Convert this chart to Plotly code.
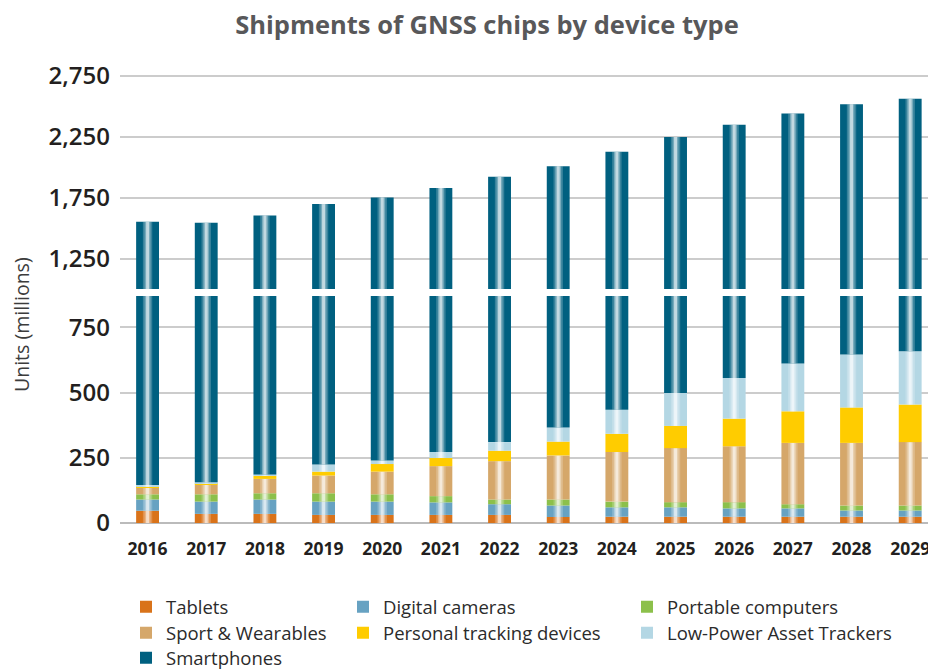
import numpy as np
import plotly.graph_objects as go

years = ["2016", "2017", "2018", "2019", "2020", "2021", "2022",
         "2023", "2024", "2025", "2026", "2027", "2028", "2029"]

tablets = [47, 35, 35, 31, 31, 31, 31, 23, 24, 24, 24, 24, 24, 24]
digital_cameras = [43, 47, 55, 51, 51, 48, 41, 44, 36, 36, 32, 32, 24, 24]
portable_computers = [20, 28, 24, 32, 28, 24, 18, 23, 22, 20, 24, 16, 19, 19]
sport_wearables = [27, 37, 55, 68, 87, 115, 147, 169, 190, 207, 214, 235, 240, 243]
personal_tracking = [2, 4, 12, 15, 29, 31, 40, 53, 70, 85, 106, 121, 136, 144]
low_power_trackers = [7, 5, 5, 27, 14, 23, 33, 54, 92, 126, 156, 183, 203, 204]
smartphones = [1406, 1388, 1418, 1473, 1512, 1558, 1611, 1642, 1692, 1750,
               1792, 1830, 1871, 1904]

lower_ticks = [0, 250, 500, 750]
lower_labels = ["0", "250", "500", "750"]
upper_ticks = [1250, 1750, 2250, 2750]
upper_labels = ["1,250", "1,750", "2,250", "2,750"]

# name, values, colour, highlight stripe, legend text position (ref px: text-left x, row centre y)
series = [
    ("Tablets", tablets, "#D9731A", True, (167, 607)),
    ("Digital cameras", digital_cameras, "#67A2C2", True, (384, 607)),
    ("Portable computers", portable_computers, "#8CC04B", True, (668, 607)),
    ("Sport & Wearables", sport_wearables, "#D5A76A", True, (167, 633)),
    ("Personal tracking devices", personal_tracking, "#FFCC00", False, (384, 633)),
    ("Low-Power Asset Trackers", low_power_trackers, "#B4D7E4", True, (668, 633)),
    ("Smartphones", smartphones, "#006080", True, (167, 658)),
]

FONT = "Open Sans"
BAR_W = 0.39
highlight = [(0.16, 0.22), (0.10, 0.32), (0.05, 0.55)]

# page body has an 8px margin; work in reference pixel coords and shift
OFF = 8
W, H = 936 - OFF, 671 - OFF
plot_left, plot_right = 120, 936
plot_top, plot_bottom = 74, 523
ph = plot_bottom - plot_top
pw = plot_right - plot_left

fig = go.Figure()
legends = {}
base = np.zeros(len(years))
for i, (name, vals, color, grad, (lx, ly)) in enumerate(series):
    vals = np.array(vals, dtype=float)
    leg = "legend" if i == 0 else f"legend{i + 1}"
    legends[leg] = dict(
        x=(lx - 41 - plot_left) / pw, y=(plot_bottom - (ly - 18.7)) / ph,
        orientation="v", yanchor="top", xanchor="left",
        font=dict(family=FONT, size=18.5, color="#2b2b2b"),
        bgcolor="rgba(0,0,0,0)", tracegroupgap=0, itemclick=False,
    )
    for ax in ["y", "y2"]:
        fig.add_trace(go.Bar(
            x=years, y=vals, base=base, width=BAR_W, name=name,
            marker=dict(color=color, line=dict(width=0)),
            yaxis=ax, xaxis="x", legend=leg,
            showlegend=(ax == "y"),
        ))
        if grad:
            for w, a in highlight:
                fig.add_trace(go.Bar(
                    x=years, y=vals, base=base, width=w,
                    marker=dict(color=f"rgba(255,255,255,{a})", line=dict(width=0)),
                    yaxis=ax, xaxis="x", showlegend=False, hoverinfo="skip",
                ))
    base = base + vals

fig.update_layout(
    width=W, height=H,
    margin=dict(l=plot_left - OFF, r=0, t=plot_top - OFF, b=671 - plot_bottom,
                autoexpand=False),
    paper_bgcolor="white", plot_bgcolor="white",
    barmode="overlay",
    title=dict(
        text="<b>Shipments of GNSS chips by device type</b>",
        font=dict(family=FONT, size=25.5, color="#58585A"),
        xref="container", yref="container",
        x=(487 - OFF) / W, xanchor="center", y=1, yanchor="top",
        pad=dict(t=8, b=0),
    ),
    xaxis=dict(
        type="category", range=[-0.47, 13.44], showgrid=False,
        showline=False, ticks="", anchor="y",
        tickfont=dict(family=FONT, size=17.5, color="#231F20", weight=700),
        ticklabelstandoff=13,
    ),
    yaxis=dict(
        domain=[0, 227 / ph], range=[0, 870],
        tickvals=lower_ticks, ticktext=lower_labels,
        showgrid=True, gridcolor="#CCCCCC", gridwidth=1.5,
        zeroline=True, zerolinecolor="#BBBBBB", zerolinewidth=2,
        ticks="", ticklabelstandoff=9,
        tickfont=dict(family=FONT, size=24, color="#231F20", weight=600),
    ),
    yaxis2=dict(
        domain=[(plot_bottom - 289) / ph, 1], range=[1000, 2765],
        tickvals=upper_ticks, ticktext=upper_labels, anchor="x",
        showgrid=True, gridcolor="#CCCCCC", gridwidth=1.5, zeroline=False,
        ticks="", ticklabelstandoff=9,
        tickfont=dict(family=FONT, size=24, color="#231F20", weight=600),
    ),
    annotations=[dict(
        text="Units (millions)", textangle=-90,
        xref="paper", yref="paper", x=(21 - plot_left) / pw,
        y=(plot_bottom - 325) / ph,
        xanchor="center", yanchor="middle", showarrow=False,
        font=dict(family=FONT, size=19.5, color="#3C3C3C"),
    )],
    **legends,
)

fig.write_html("out.html")
